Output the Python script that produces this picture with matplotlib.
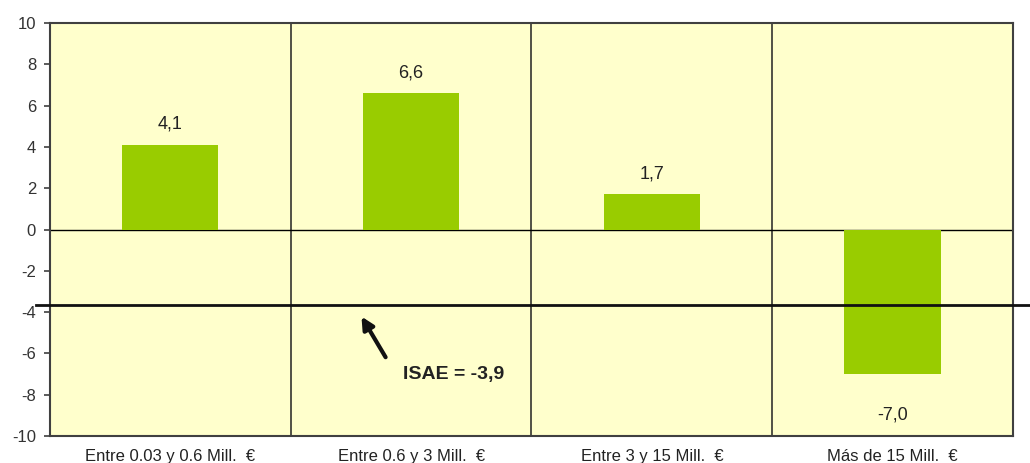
import matplotlib.pyplot as plt
import numpy as np

plt.rcParams['font.family'] = ['Liberation Sans', 'DejaVu Sans']
plt.rcParams['axes.unicode_minus'] = False

categorias = ['Entre 0.03 y 0.6 Mill.  €', 'Entre 0.6 y 3 Mill.  €',
              'Entre 3 y 15 Mill.  €', 'Más de 15 Mill.  €']
valores = [4.1, 6.6, 1.7, -7.0]
etiquetas = ['4,1', '6,6', '1,7', '-7,0']
isae = -3.9
isae_linea = -3.65  # where the line is drawn in the original

fig = plt.figure(figsize=(10.3, 4.63), dpi=100)
ax = fig.add_axes([0.0485, 0.0583, 0.935, 0.892])
ax.set_facecolor('#FFFFCC')

x = np.arange(len(categorias))
ax.bar(x, valores, width=0.4, color='#99CC00', zorder=2)

for i, v in enumerate(valores):
    off = 1.0 if v >= 0 else -2.0
    ax.text(x[i], v + off, etiquetas[i], ha='center', va='center',
            fontsize=13, color='#222222', zorder=3)

for b in [0.5, 1.5, 2.5]:
    ax.axvline(b, color='#222222', lw=1.1, zorder=1)
ax.axhline(0, color='black', lw=1.0, zorder=1)

ax.axhline(isae_linea, xmin=-0.014, xmax=1.02, color='#111111', lw=2.0,
           clip_on=False, zorder=4)
ax.annotate('', xy=(0.788, -4.1), xytext=(0.90, -6.3),
            arrowprops=dict(arrowstyle='-|>', color='#111111', lw=3,
                            mutation_scale=18), zorder=5)
ax.text(1.176, -7.0, 'ISAE = ' + str(isae).replace('.', ','), ha='center',
        va='center', fontsize=14, fontweight='bold', color='#222222')

ax.set_xlim(-0.5, 3.5)
ax.set_ylim(-10, 10)
ax.set_yticks(np.arange(-10, 11, 2))
ax.set_xticks(x)
ax.set_xticklabels(categorias, fontsize=12, color='#222222')
ax.tick_params(axis='x', length=0, pad=9)
ax.tick_params(axis='y', length=4, pad=6, labelsize=12, labelcolor='#333333',
               color='#404040', width=1.2)
for s in ax.spines.values():
    s.set_color('#404040')
    s.set_linewidth(1.5)

fig.savefig('out.png')
